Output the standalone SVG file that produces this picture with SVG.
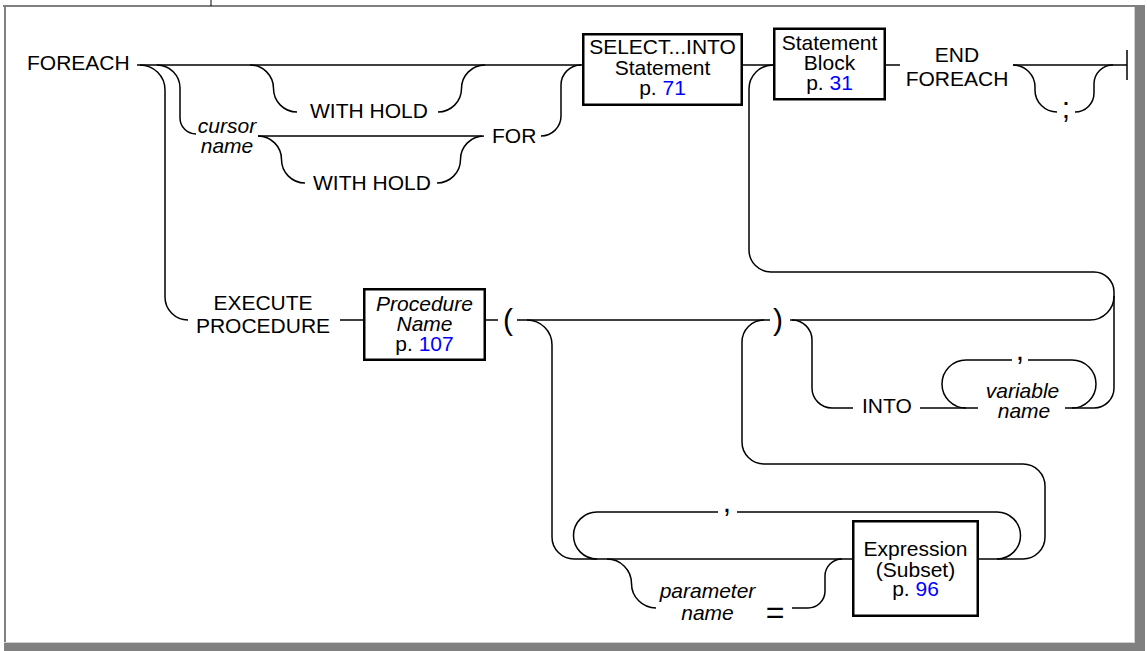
<svg xmlns="http://www.w3.org/2000/svg" width="1147" height="651" viewBox="0 0 1147 651">
<style>
.ln{fill:none;stroke:#000;stroke-width:1.5}
.box{fill:#fff;stroke:#000;stroke-width:2.5}
text{font-family:"Liberation Sans",Arial,Helvetica,sans-serif;font-size:21px;fill:#000}
.i{font-style:italic}
.m{text-anchor:middle}
.p{font-size:30px}
.ref{fill:#0000ff}
</style>
<rect width="1147" height="651" fill="#fff"/>
<g id="frame">
<rect x="3" y="5" width="1142" height="2" fill="#808080"/>
<rect x="4" y="5" width="2" height="638" fill="#808080"/>
<rect x="1134" y="7" width="1" height="636" fill="#d0d0d0"/>
<rect x="1135" y="6" width="10" height="645" fill="#808080"/>
<rect x="4" y="642" width="1131" height="1" fill="#d0d0d0"/>
<rect x="4" y="643" width="1141" height="8" fill="#808080"/>
<line x1="211" y1="0" x2="211" y2="6" stroke="#000" stroke-width="1"/>
</g>
<g id="connectors" class="ln">
<path d="M137 65H582M743 65H773M886 65H900M1013 65H1127M1127 50V80"/>
<path d="M140 65A25 25 0 0 1 165 90V297A23 23 0 0 0 188 320"/>
<path d="M157 65A23 23 0 0 1 180 88V118A16 16 0 0 0 196 134"/>
<path d="M258 136H482"/>
<path d="M250 65A23.5 23.5 0 0 1 273.5 88.5A23.5 23.5 0 0 0 297 112"/>
<path d="M438 112A23.5 23.5 0 0 0 461.5 88.5A23.5 23.5 0 0 1 485 65"/>
<path d="M258 136A23.5 23.5 0 0 1 281.5 159.5A23.5 23.5 0 0 0 305 183"/>
<path d="M437 183A23.5 23.5 0 0 0 460.5 159.5A23.5 23.5 0 0 1 484 136"/>
<path d="M541 136A20 20 0 0 0 561 116V85A20 20 0 0 1 581 65"/>
<path d="M1013 65A22 22 0 0 1 1035 87V90A22 22 0 0 0 1057 112"/>
<path d="M1075 112A19 19 0 0 0 1094 93V84A19 19 0 0 1 1113 65"/>
<path d="M773 65A24 24 0 0 0 749 89V250A22 22 0 0 0 771 272H1094A20 20 0 0 1 1114 292V388A20 20 0 0 1 1094 408H1065"/>
<path d="M790 320H1090A24 24 0 0 0 1114 296"/>
<path d="M792 320A20 20 0 0 1 812 340V388A20 20 0 0 0 832 408H853"/>
<path d="M920 408H978"/>
<path d="M966 408A24 24 0 0 1 966 360H1012M1028 360H1072A24 24 0 0 1 1072 408"/>
<path d="M340 320H363M486 320H498M517 320H770"/>
<path d="M527 320A25 25 0 0 1 552 345V537A22 22 0 0 0 574 559H852"/>
<path d="M979 559H1023A22 22 0 0 0 1045 537V486A22 22 0 0 0 1023 464H764A22 22 0 0 1 742 442V342A22 22 0 0 1 764 320"/>
<path d="M997 559A23.5 23.5 0 0 0 997 512H737M718 512H597A23.5 23.5 0 0 0 597 559"/>
<path d="M607 559A24.5 24.5 0 0 1 631.5 583.5A24.5 24.5 0 0 0 656 608"/>
<path d="M792 608H808A17 17 0 0 0 825 591V576A17 17 0 0 1 842 559"/>
</g>
<g id="foreach"><text x="27" y="70">FOREACH</text></g>
<g id="withhold1"><text x="310" y="118">WITH HOLD</text></g>
<g id="cursorname"><text class="i m" x="227" y="133">cursor</text><text class="i m" x="227" y="153">name</text></g>
<g id="withhold2"><text x="313" y="190">WITH HOLD</text></g>
<g id="for"><text x="492" y="143">FOR</text></g>
<g id="selectinto">
<rect class="box" x="583.25" y="34.25" width="158.5" height="70.5"/>
<text class="m" x="662.5" y="54">SELECT...INTO</text>
<text class="m" x="662.5" y="75">Statement</text>
<text class="m" x="662.5" y="95">p. <tspan class="ref">71</tspan></text>
</g>
<g id="statementblock">
<rect class="box" x="774.25" y="28.75" width="110.5" height="70.5"/>
<text class="m" x="829.5" y="50">Statement</text>
<text class="m" x="829.5" y="70">Block</text>
<text class="m" x="829.5" y="90">p. <tspan class="ref">31</tspan></text>
</g>
<g id="endforeach"><text class="m" x="957" y="62">END</text><text class="m" x="957" y="86">FOREACH</text></g>
<g id="semicolon"><text class="m p" x="1066" y="118">;</text></g>
<g id="executeprocedure"><text class="m" x="263" y="310">EXECUTE</text><text class="m" x="263" y="333">PROCEDURE</text></g>
<g id="procedurename">
<rect class="box" x="364.25" y="289.25" width="120.5" height="70.5"/>
<text class="m i" x="424.5" y="310.5">Procedure</text>
<text class="m i" x="424.5" y="330.5">Name</text>
<text class="m" x="424.5" y="350.5">p. <tspan class="ref">107</tspan></text>
</g>
<g id="lparen"><text class="m p" x="508" y="330">(</text></g>
<g id="rparen"><text class="m p" x="778" y="330">)</text></g>
<g id="into"><text x="862" y="413">INTO</text></g>
<g id="comma1"><text class="m p" x="1020" y="360">,</text></g>
<g id="variablename"><text class="m i" x="1022.5" y="398">variable</text><text class="m i" x="1024" y="418">name</text></g>
<g id="comma2"><text class="m p" x="727" y="512">,</text></g>
<g id="parametername"><text class="m i" x="707.5" y="598">parameter</text><text class="m i" x="707.5" y="620">name</text></g>
<g id="equals"><text class="m" style="font-size:32px" x="775" y="623">=</text></g>
<g id="expression">
<rect class="box" x="853.25" y="521.25" width="124.5" height="94.5"/>
<text class="m" x="915.5" y="556">Expression</text>
<text class="m" x="915.5" y="577">(Subset)</text>
<text class="m" x="915.5" y="596">p. <tspan class="ref">96</tspan></text>
</g>
</svg>
